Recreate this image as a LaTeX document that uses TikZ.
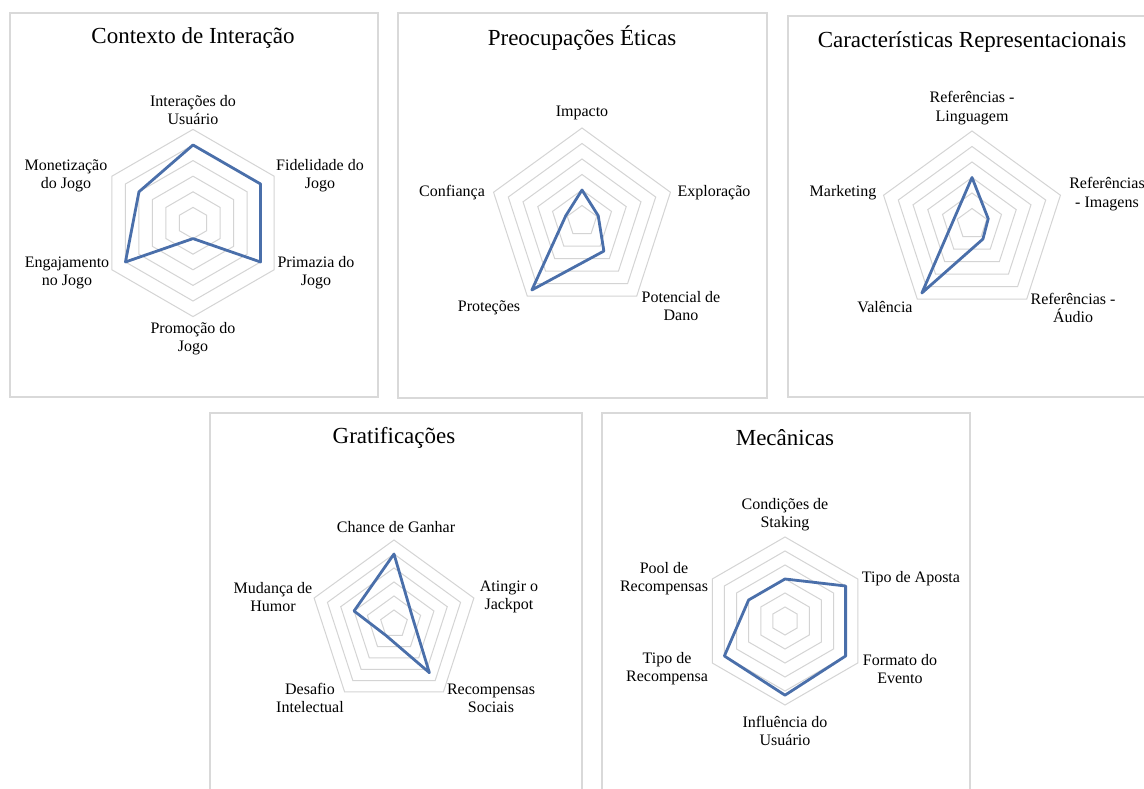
\documentclass[tikz,border=0pt]{standalone}
\usepackage{fontspec}
\setmainfont{Liberation Serif}
\definecolor{boxgray}{HTML}{D9D9D9}
\definecolor{ringgray}{HTML}{D4D4D4}
\definecolor{dataBlue}{HTML}{4A6FAA}
\newcommand{\ttlfont}{\fontsize{23}{27}\selectfont}
\newcommand{\lblfont}{\fontsize{16}{18.3}\selectfont}
\tikzset{
  panel/.style={draw=boxgray, line width=1.3pt},
  ring/.style={draw=ringgray, line width=1pt},
  datline/.style={draw=dataBlue, line width=2.8pt, line join=round},
  ttl/.style={font=\ttlfont, text=black},
  lbl/.style={font=\lblfont, align=center, inner sep=0pt, text=black},
}

\begin{document}
\begin{tikzpicture}[x=1pt,y=1pt]
\useasboundingbox[fill=white] (0,0) rectangle (1144,789);
% panel frames
\draw[panel] (10,392) rectangle (378,776);
\draw[panel] (398,391) rectangle (767,776);
\draw[panel] (788,392) rectangle (1158,773);
\draw[panel] (210,-20) rectangle (582,376);
\draw[panel] (602,-20) rectangle (970,376);

% Contexto de Interacao
\begin{scope}[shift={(193,566)}]
\def\st{15.6}
\foreach \k in {1,...,6}
  \draw[ring] (90:{\k*\st}) -- (30:{\k*\st}) -- (-30:{\k*\st}) -- (-90:{\k*\st}) -- (-150:{\k*\st}) -- (150:{\k*\st}) -- cycle;
\draw[datline] (90:{5*\st}) -- (30:{5*\st}) -- (-30:{5*\st}) -- (-90:{1*\st}) -- (-150:{5*\st}) -- (150:{4*\st}) -- cycle;
\node[ttl] (t) at (0,185) {Contexto de Interação};
\node[lbl] (1) at (0,113) {Interações do\\Usuário};
\node[lbl] (2) at (127,47) {Fidelidade do\\Jogo};
\node[lbl] (3) at (123,-50) {Primazia do\\Jogo};
\node[lbl] (4) at (0,-116) {Promoção do\\Jogo};
\node[lbl] (5) at (-126,-50) {Engajamento\\no Jogo};
\node[lbl] (6) at (-127,47) {Monetização\\do Jogo};
\end{scope}

% Preocupacoes Eticas
\begin{scope}[shift={(582,568)}]
\def\st{15.5}
\foreach \k in {1,...,6}
  \draw[ring] (90:{\k*\st}) -- (18:{\k*\st}) -- (-54:{\k*\st}) -- (-126:{\k*\st}) -- (162:{\k*\st}) -- cycle;
\draw[datline] (90:{2*\st}) -- (18:{1.1*\st}) -- (-54:{2.4*\st}) -- (-126:{5.5*\st}) -- (162:{1.1*\st}) -- cycle;
\node[ttl] (t) at (0,183) {Preocupações Éticas};
\node[lbl] (1) at (0,108) {Impacto};
\node[lbl] (2) at (132,28) {Exploração};
\node[lbl] (3) at (99,-85) {Potencial de\\Dano};
\node[lbl] (4) at (-93,-87) {Proteções};
\node[lbl] (5) at (-130,28) {Confiança};
\end{scope}

% Caracteristicas Representacionais
\begin{scope}[shift={(972,565)}]
\def\st{15.5}
\foreach \k in {1,...,6}
  \draw[ring] (90:{\k*\st}) -- (18:{\k*\st}) -- (-54:{\k*\st}) -- (-126:{\k*\st}) -- (162:{\k*\st}) -- cycle;
\draw[datline] (90:{3*\st}) -- (18:{1.1*\st}) -- (-54:{1.2*\st}) -- (-126:{5.5*\st}) -- (162:{1.2*\st}) -- cycle;
\node[ttl] (t) at (0,182) {Características Representacionais};
\node[lbl] (1) at (0,116) {Referências -\\Linguagem};
\node[lbl] (2) at (135,30) {Referências\\- Imagens};
\node[lbl] (3) at (101,-84) {Referências -\\Áudio};
\node[lbl] (4) at (-87,-83) {Valência};
\node[lbl] (5) at (-129,31) {Marketing};
\end{scope}

% Gratificacoes
\begin{scope}[shift={(394,165)}]
\def\st{14}
\foreach \k in {1,...,6}
  \draw[ring] (90:{\k*\st}) -- (18:{\k*\st}) -- (-54:{\k*\st}) -- (-126:{\k*\st}) -- (162:{\k*\st}) -- cycle;
\draw[datline] (90:{5*\st}) -- (18:{1.4*\st}) -- (-54:{4.3*\st}) -- (-126:{1*\st}) -- (162:{3*\st}) -- cycle;
\node[ttl] (t) at (0,186) {Gratificações};
\node[lbl] (1) at (2,97) {Chance de Ganhar};
\node[lbl] (2) at (115,27) {Atingir o\\Jackpot};
\node[lbl] (3) at (97,-74) {Recompensas\\Sociais};
\node[lbl] (4) at (-84,-74) {Desafio\\Intelectual};
\node[lbl] (5) at (-121,27) {Mudança de\\Humor};
\end{scope}

% Mecanicas
\begin{scope}[shift={(785,168)}]
\def\st{14}
\foreach \k in {1,...,6}
  \draw[ring] (90:{\k*\st}) -- (30:{\k*\st}) -- (-30:{\k*\st}) -- (-90:{\k*\st}) -- (-150:{\k*\st}) -- (150:{\k*\st}) -- cycle;
\draw[datline] (90:{3*\st}) -- (30:{5*\st}) -- (-30:{5*\st}) -- (-90:{5.3*\st}) -- (-150:{5*\st}) -- (150:{3*\st}) -- cycle;
\node[ttl] (t) at (0,183) {Mecânicas};
\node[lbl] (1) at (0,106) {Condições de\\Staking};
\node[lbl] (2) at (126,42) {Tipo de Aposta};
\node[lbl] (3) at (115,-48) {Formato do\\Evento};
\node[lbl] (4) at (0,-110) {Influência do\\Usuário};
\node[lbl] (5) at (-118,-48) {Tipo de\\Recompensa};
\node[lbl] (6) at (-121,42) {Pool de\\Recompensas};
\end{scope}
\end{tikzpicture}
\end{document}
